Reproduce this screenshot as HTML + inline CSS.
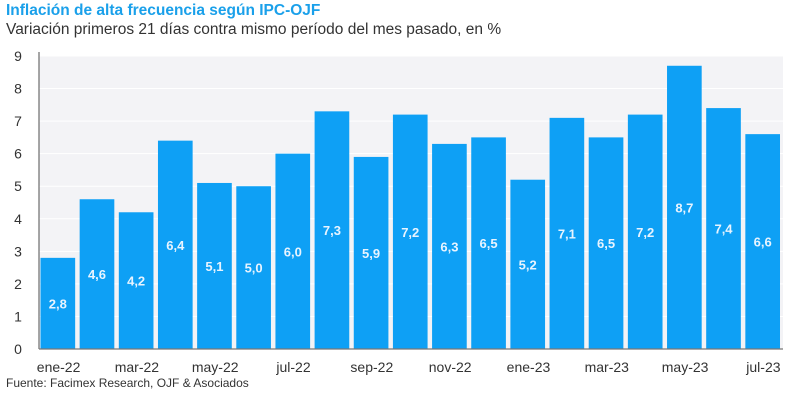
<!DOCTYPE html>
<html><head><meta charset="utf-8"><style>
body{margin:0;background:#fff;width:800px;height:406px;overflow:hidden;font-family:"Liberation Sans",sans-serif}
#t{position:absolute;left:6px;top:2px;font-size:15.5px;font-weight:bold;color:#1aa0ea}
#s{position:absolute;left:6px;top:21px;font-size:15.5px;color:#333}
#f{position:absolute;left:6px;top:376px;font-size:12px;color:#333}
</style></head><body>
<div id="t">Inflación de alta frecuencia según IPC-OJF</div>
<div id="s">Variación primeros 21 días contra mismo período del mes pasado, en %</div>
<div id="f">Fuente: Facimex Research, OJF &amp; Asociados</div>
<svg id="c" width="800" height="406" style="position:absolute;left:0;top:0"></svg>
<script>
const categories=["ene-22","feb-22","mar-22","abr-22","may-22","jun-22","jul-22","ago-22","sep-22","oct-22","nov-22","dic-22","ene-23","feb-23","mar-23","abr-23","may-23","jun-23","jul-23"];
const values=[2.8,4.6,4.2,6.4,5.1,5.0,6.0,7.3,5.9,7.2,6.3,6.5,5.2,7.1,6.5,7.2,8.7,7.4,6.6];
const yTicks=[0,1,2,3,4,5,6,7,8,9];
const xLabelIdx=[0,2,4,6,8,10,12,14,16,18];
const NS="http://www.w3.org/2000/svg",svg=document.getElementById('c');
const L=39,R=783,T=56,B=349,yMax=9;
const band=(R-L)/categories.length;
const y=v=>B-(v/yMax)*(B-T);
const x=i=>L+i*band;
function mk(tag,a,txt){const e=document.createElementNS(NS,tag);for(const k in a)e.setAttribute(k,a[k]);if(txt!=null)e.textContent=txt;svg.appendChild(e);return e;}
let bg=mk('rect',{x:L,y:T,width:R-L,height:B-T,fill:'#f3f3f6'});


yTicks.forEach(t=>{
 let g=mk('line',{x1:L,x2:R,y1:y(t),y2:y(t),stroke:'#fff','stroke-width':1});
 
 
 let tl=mk('text',{x:18,y:y(t)+5,'text-anchor':'middle','font-size':14,fill:'#333'},t);
 
 
});
values.forEach((v,i)=>{
 const bx=x(i)+1.5,bw=band-4.5;
 let r=mk('rect',{x:bx,y:y(v),width:bw,height:B-y(v),fill:'#0ea0f5'});
 
 
 let l=mk('text',{x:bx+bw/2,y:(y(v)+B)/2+5,'text-anchor':'middle','font-size':13,'font-weight':'bold',fill:'#e8f4ff'},v.toFixed(1).replace('.',','));
 
 
});
xLabelIdx.forEach(i=>{
 let l=mk('text',{x:x(i)+band/2,y:372,'text-anchor':'middle','font-size':14,fill:'#333'},categories[i]);
 
 
});
let ya=mk('line',{x1:L,x2:L,y1:T-4,y2:B,stroke:'#777','stroke-width':1.3});


let xa=mk('line',{x1:L,x2:R,y1:B,y2:B,stroke:'#777','stroke-width':1.3});


</script>
</body></html>
